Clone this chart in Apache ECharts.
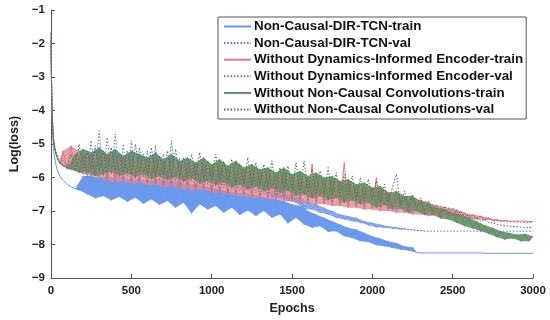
<!DOCTYPE html>
<html>
<head>
<meta charset="utf-8">
<script src="https://cdn.jsdelivr.net/npm/echarts@6/dist/echarts.min.js"></script>
<style>
html,body{margin:0;padding:0;background:#fff;}
#chart{width:550px;height:320px;}
</style>
</head>
<body>
<div id="chart"></div>
<script>
// ---- data ----
const epochs = [
  0,3,6,10,15,20,30,40,50,60,
  75,100,125,150,175,200,225,250,275,300,
  325,350,375,400,425,450,475,500,525,550,
  575,600,625,650,675,700,725,750,775,800,
  825,850,875,900,925,950,975,1000,1025,1050,
  1075,1100,1125,1150,1175,1200,1225,1250,1275,1300,
  1325,1350,1375,1400,1425,1450,1475,1500,1525,1550,
  1575,1600,1625,1650,1675,1700,1725,1750,1775,1800,
  1825,1850,1875,1900,1925,1950,1975,2000,2025,2050,
  2075,2100,2125,2150,2175,2200,2225,2250,2275,2300,
  2325,2350,2375,2400,2425,2450,2475,2500,2525,2550,
  2575,2600,2625,2650,2675,2700,2725,2750,2775,2800,
  2825,2850,2875,2900,2925,2950,2975,3000
];
const nonCausalTrain = [
  -2.0,-3.3,-4.0,-4.6,-5.1,-5.35,-5.6,-5.8,-5.9,-6.0,
  -6.08,-6.2,-6.28,-6.33,-6.38,-5.95,-6.5,-5.95,-6.62,-6.0,
  -6.55,-5.95,-6.68,-6.0,-6.58,-6.0,-6.72,-6.05,-6.6,-6.05,
  -6.78,-6.1,-6.65,-6.05,-6.82,-6.1,-6.7,-6.1,-6.9,-6.15,
  -6.75,-6.2,-7.07,-6.2,-6.8,-6.25,-6.95,-6.3,-6.85,-6.35,
  -7.05,-6.4,-6.9,-6.45,-7.12,-6.45,-6.98,-6.5,-7.15,-6.55,
  -7.0,-6.6,-7.2,-6.65,-7.1,-6.7,-7.37,-6.8,-7.2,-6.85,
  -7.4,-7.0,-7.5,-7.1,-7.45,-7.2,-7.62,-7.3,-7.6,-7.4,
  -7.75,-7.5,-7.8,-7.55,-7.9,-7.65,-7.92,-7.75,-8.02,-7.82,
  -8.05,-7.9,-8.1,-7.95,-8.15,-8.05,-8.18,-8.08,-8.24,-8.25,
  -8.25,-8.25,-8.25,-8.25,-8.25,-8.25,-8.25,-8.25,-8.25,-8.25,
  -8.25,-8.25,-8.25,-8.25,-8.25,-8.26,-8.26,-8.26,-8.26,-8.26,
  -8.26,-8.26,-8.26,-8.26,-8.26,-8.26,-8.26,-8.26
];
const nonCausalVal = [
  -2.0,-3.0,-3.8,-4.4,-4.8,-5.05,-5.2,-5.3,-5.38,-5.42,
  -5.5,-5.65,-5.72,-5.8,-5.85,-5.3,-6.0,-4.9,-5.9,-4.6,
  -5.95,-4.8,-5.9,-4.7,-6.0,-5.0,-5.95,-4.9,-6.05,-5.1,
  -6.0,-5.2,-6.05,-5.05,-6.1,-5.3,-6.0,-4.9,-6.1,-5.4,
  -6.15,-5.5,-6.1,-5.6,-6.2,-5.7,-6.2,-5.8,-6.25,-5.9,
  -6.3,-6.0,-6.35,-6.05,-6.4,-6.1,-6.4,-6.15,-6.45,-6.2,
  -6.5,-6.3,-6.6,-6.4,-6.6,-6.45,-6.7,-6.5,-6.75,-6.6,
  -6.95,-6.72,-6.95,-6.8,-7.05,-6.9,-7.1,-7.0,-7.2,-7.1,
  -7.25,-7.15,-7.3,-7.2,-7.35,-7.3,-7.42,-7.35,-7.48,-7.4,
  -7.5,-7.45,-7.52,-7.48,-7.55,-7.52,-7.56,-7.55,-7.58,-7.58,
  -7.6,-7.6,-7.6,-7.6,-7.6,-7.6,-7.6,-7.6,-7.6,-7.6,
  -7.6,-7.6,-7.6,-7.6,-7.6,-7.6,-7.6,-7.6,-7.6,-7.6,
  -7.6,-7.6,-7.6,-7.6,-7.6,-7.6,-7.6,-7.6
];
const noEncoderTrain = [
  -1.9,-3.2,-3.9,-4.5,-4.9,-5.1,-5.3,-5.45,-5.52,-5.6,
  -5.2,-5.75,-5.05,-5.8,-5.2,-5.9,-5.3,-5.95,-5.25,-6.0,
  -5.35,-6.1,-5.3,-6.15,-5.4,-6.1,-5.35,-6.2,-5.45,-6.15,
  -5.5,-6.25,-5.45,-6.2,-5.5,-6.3,-5.55,-6.25,-5.5,-6.35,
  -5.6,-6.35,-5.55,-6.4,-5.6,-6.35,-5.65,-6.45,-5.7,-6.45,
  -5.7,-6.5,-5.75,-6.55,-5.8,-6.55,-5.75,-6.6,-5.85,-6.6,
  -5.85,-6.65,-5.9,-6.65,-5.95,-6.7,-5.9,-6.7,-6.0,-6.75,
  -6.0,-6.75,-5.6,-6.8,-6.1,-6.8,-6.1,-6.85,-6.15,-6.85,
  -5.55,-6.9,-6.2,-6.9,-6.3,-6.95,-6.3,-6.95,-6.0,-7.0,
  -6.4,-7.0,-6.45,-7.05,-6.5,-7.05,-6.6,-7.1,-6.65,-7.1,
  -6.7,-7.15,-6.8,-7.15,-6.85,-7.2,-6.9,-7.2,-6.95,-7.22,
  -7.05,-7.22,-7.1,-7.25,-7.15,-7.27,-7.2,-7.28,-7.25,-7.3,
  -7.28,-7.3,-7.3,-7.3,-7.3,-7.3,-7.31,-7.31
];
const noEncoderVal = [
  -1.9,-3.1,-3.85,-4.45,-4.85,-5.05,-5.25,-5.4,-5.48,-5.55,
  -5.6,-5.65,-5.7,-5.72,-5.4,-5.85,-5.3,-5.9,-5.2,-5.95,
  -5.4,-6.0,-5.35,-6.0,-5.45,-6.05,-5.4,-6.1,-5.5,-6.1,
  -5.55,-6.15,-5.5,-6.15,-5.55,-6.2,-5.6,-6.2,-5.6,-6.25,
  -5.65,-6.25,-5.6,-6.3,-5.7,-6.3,-5.7,-6.35,-5.75,-6.4,
  -5.75,-6.45,-5.8,-6.45,-5.85,-6.5,-5.8,-6.5,-5.9,-6.55,
  -5.9,-6.55,-5.95,-6.6,-6.0,-6.6,-5.95,-6.65,-6.05,-6.65,
  -6.05,-6.7,-6.1,-6.7,-6.15,-6.75,-6.15,-6.75,-6.2,-6.8,
  -6.2,-6.8,-6.25,-6.85,-6.35,-6.85,-6.35,-6.9,-6.4,-6.9,
  -6.45,-6.95,-6.5,-6.95,-6.55,-7.0,-6.65,-7.0,-6.7,-7.05,
  -6.75,-7.05,-6.85,-7.1,-6.9,-7.1,-6.95,-7.15,-7.0,-7.15,
  -7.05,-7.2,-7.1,-7.2,-7.15,-7.25,-7.2,-7.28,-7.28,-7.3,
  -7.3,-7.32,-7.32,-7.33,-7.33,-7.34,-7.34,-7.35
];
const noNonCausalTrain = [
  -1.66,-3.0,-3.8,-4.4,-4.8,-5.0,-5.25,-5.4,-5.5,-5.6,
  -5.65,-5.7,-5.75,-5.3,-5.85,-5.15,-5.85,-5.25,-5.95,-5.1,
  -5.9,-5.3,-5.82,-5.15,-5.95,-5.35,-5.88,-5.2,-5.98,-5.3,
  -5.9,-5.4,-6.05,-5.25,-5.95,-5.45,-6.08,-5.3,-5.98,-5.5,
  -6.12,-5.4,-6.02,-5.55,-6.18,-5.4,-6.1,-5.6,-6.22,-5.45,
  -6.15,-5.65,-6.3,-5.5,-6.22,-5.7,-6.35,-5.6,-6.28,-5.75,
  -6.4,-5.7,-6.32,-5.85,-6.45,-5.7,-6.4,-5.9,-6.55,-5.8,
  -6.5,-5.95,-6.62,-5.85,-6.55,-6.0,-6.68,-5.95,-6.6,-6.1,
  -6.75,-6.05,-6.68,-6.2,-6.8,-6.15,-6.75,-6.3,-6.9,-6.25,
  -6.82,-6.45,-6.95,-6.4,-6.92,-6.55,-7.05,-6.55,-7.0,-6.7,
  -7.12,-6.75,-7.1,-6.9,-7.22,-6.95,-7.25,-7.05,-7.35,-7.1,
  -7.45,-7.2,-7.52,-7.3,-7.6,-7.42,-7.68,-7.5,-7.78,-7.6,
  -7.85,-7.65,-7.82,-7.7,-7.9,-7.68,-7.9,-7.75
];
const noNonCausalVal = [
  -1.7,-3.1,-3.85,-4.45,-4.85,-5.05,-5.3,-5.45,-5.55,-5.6,
  -5.65,-5.7,-5.3,-5.8,-5.0,-5.8,-5.2,-5.75,-5.05,-5.8,
  -5.2,-5.85,-5.1,-5.8,-5.3,-5.85,-5.2,-5.9,-5.0,-5.85,
  -5.3,-5.9,-5.1,-5.95,-5.35,-5.9,-5.2,-6.0,-5.15,-5.95,
  -5.4,-6.0,-5.3,-6.05,-5.25,-6.05,-5.5,-6.1,-5.3,-6.1,
  -5.5,-6.15,-5.45,-6.2,-5.6,-6.2,-5.4,-6.25,-5.55,-6.25,
  -5.6,-6.3,-5.5,-6.35,-5.7,-6.35,-5.65,-6.4,-5.55,-6.45,
  -5.5,-6.45,-5.75,-6.5,-5.8,-6.5,-5.7,-6.55,-5.85,-6.6,
  -5.9,-6.6,-5.95,-6.65,-6.0,-6.7,-6.05,-6.7,-6.1,-6.75,
  -6.2,-6.75,-6.3,-5.9,-6.8,-6.4,-6.85,-6.5,-6.9,-6.6,
  -6.95,-6.7,-7.0,-6.8,-7.05,-6.85,-7.1,-6.9,-7.15,-7.0,
  -7.2,-7.1,-7.25,-7.2,-7.3,-7.25,-7.35,-7.35,-7.4,-7.42,
  -7.44,-7.45,-7.46,-7.47,-7.48,-7.48,-7.49,-7.49
];
const seriesNames = [
  'Non-Causal-DIR-TCN-train',
  'Non-Causal-DIR-TCN-val',
  'Without Dynamics-Informed Encoder-train',
  'Without Dynamics-Informed Encoder-val',
  'Without Non-Causal Convolutions-train',
  'Without Non-Causal Convolutions-val'
];
const xTicks = [0, 500, 1000, 1500, 2000, 2500, 3000];
const yTicks = [-9, -8, -7, -6, -5, -4, -3, -2, -1];

// ---- chart ----
const FONT = "'Liberation Sans', Arial, Helvetica, sans-serif";
const chart = echarts.init(document.getElementById('chart'), null, {renderer: 'canvas'});

function pairs(vals) { return epochs.map((e, i) => [e, vals[i]]); }

// filled hull of a noisy line: upper edge through its peaks, lower edge through its troughs
function band(vals, color, opacity, fromEpoch) {
  return {
    type: 'custom', silent: true, coordinateSystem: 'cartesian2d',
    data: [[0, -5]], encode: {x: 0, y: 1},
    renderItem: function (params, api) {
      const n = epochs.length;
      const idx = [];
      for (let i = 0; i < n; i++) if (epochs[i] >= fromEpoch) idx.push(i);
      const top = [], bot = [];
      idx.forEach((i, k) => {
        const v = vals[i];
        const p = k > 0 ? vals[idx[k - 1]] : v;
        const q = k < idx.length - 1 ? vals[idx[k + 1]] : v;
        const isMax = (v > p && v >= q) || (v >= p && v > q);
        const isMin = (v < p && v <= q) || (v <= p && v < q);
        const edge = (k === 0 || k === idx.length - 1);
        if (!isMin || edge) {
          let spike = false;
          if (isMax && !edge && k > 1 && k < idx.length - 2) {
            const l2 = vals[idx[k - 2]], r2 = vals[idx[k + 2]];
            spike = (v - Math.max(l2, r2)) > 0.28;
          }
          if (!spike) top.push(api.coord([epochs[i], v]));
        }
        if (!isMax || edge) bot.push(api.coord([epochs[i], v]));
      });
      return {type: 'polygon', shape: {points: top.concat(bot.reverse())},
              style: {fill: color, opacity: opacity}};
    }
  };
}

function line(name, vals, color, dotted, width) {
  return {
    name: name, type: 'line', data: pairs(vals), symbol: 'none', showSymbol: false,
    lineStyle: {color: color, width: width, type: dotted ? [1.5, 1.8] : 'solid'},
    itemStyle: {color: color}, silent: true
  };
}

const option = {
  animation: false,
  backgroundColor: '#fff',
  grid: {left: 41, right: 17, top: 10, bottom: 40},
  xAxis: {
    type: 'value', min: xTicks[0], max: xTicks[xTicks.length - 1], interval: 500,
    name: 'Epochs', nameLocation: 'middle', nameGap: 21,
    nameTextStyle: {fontFamily: FONT, fontWeight: 'bold', fontSize: 12.5, color: '#222'},
    axisLine: {lineStyle: {color: '#555', width: 1}},
    axisTick: {inside: true, length: 4, lineStyle: {color: '#555'}},
    axisLabel: {fontFamily: FONT, fontWeight: 'bold', fontSize: 11.5, color: '#222', margin: 7,
      formatter: v => String(v)},
    splitLine: {show: false}
  },
  yAxis: {
    type: 'value', min: yTicks[0], max: yTicks[yTicks.length - 1], interval: 1,
    name: 'Log(loss)', nameLocation: 'middle', nameGap: 24, nameRotate: 90,
    nameTextStyle: {fontFamily: FONT, fontWeight: 'bold', fontSize: 12.5, color: '#222'},
    axisLine: {show: true, lineStyle: {color: '#555', width: 1}},
    axisTick: {show: true, inside: true, length: 4, lineStyle: {color: '#555'}},
    axisLabel: {fontFamily: FONT, fontWeight: 'bold', fontSize: 11.5, color: '#222', margin: 6,
      formatter: v => String(v).replace('-', '\u2212')},
    splitLine: {show: false}
  },
  legend: {
    data: seriesNames, orient: 'vertical', left: 218, top: 17,
    itemWidth: 27, itemHeight: 14, itemGap: 3.6, padding: [3, 3, 3, 5],
    borderColor: '#555', borderWidth: 1, backgroundColor: '#fff',
    selectedMode: false,
    itemStyle: {opacity: 0},
    lineStyle: {width: 2},
    textStyle: {fontFamily: FONT, fontWeight: 'bold', fontSize: 13.4, color: '#111', padding: [0, 0, 0, -2]}
  },
  series: [
    band(nonCausalTrain, '#6C9AEE', 1, 0),
    line(seriesNames[0], nonCausalTrain, '#6A98EC', false, 1),
    band(nonCausalVal, '#7096EE', 0.8, 1350),
    line(seriesNames[1], nonCausalVal, '#5274E4', true, 1),
    band(noEncoderTrain, '#DE8A93', 0.8, 0),
    line(seriesNames[2], noEncoderTrain, '#DC7A85', false, 1),
    line(seriesNames[3], noEncoderVal, '#A8646E', true, 1),
    band(noNonCausalTrain, '#67926A', 0.92, 0),
    line(seriesNames[4], noNonCausalTrain, '#5E8E60', false, 1),
    line(seriesNames[5], noNonCausalVal, '#4A6E52', true, 1)
  ]
};
chart.setOption(option);
</script>
</body>
</html>
